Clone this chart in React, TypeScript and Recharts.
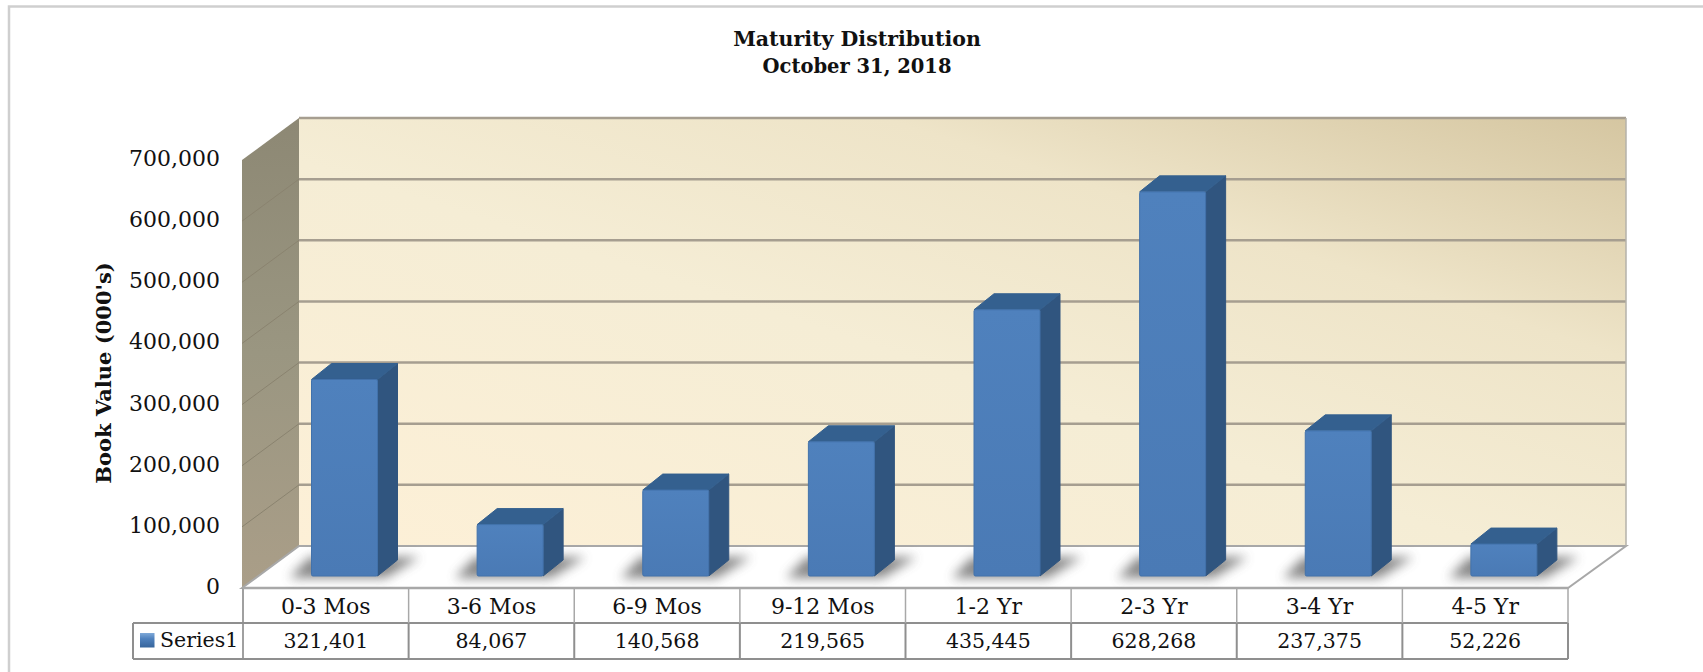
import { Bar, BarChart, XAxis, YAxis } from "recharts";

const categories = ["0-3 Mos", "3-6 Mos", "6-9 Mos", "9-12 Mos", "1-2 Yr", "2-3 Yr", "3-4 Yr", "4-5 Yr"];
const seriesValues = [321401, 84067, 140568, 219565, 435445, 628268, 237375, 52226];
const yTicks = [0, 100000, 200000, 300000, 400000, 500000, 600000, 700000];
const seriesName = "Series1";

const chartData = categories.map((name, i) => ({ name, value: seriesValues[i] }));

const FONT = "'DejaVu Serif', serif";
const W = 1703;
const H = 672;

// bars stand on a plane part way into the 3D box
const plotLeft = 261.5;
const plotRight = 1586.5;
const plotBottom = 576;
const plotHeight = 428;
const yMax = 700000;
const axisW = 60;
const axisH = 60;
const frontX = 243;
const frontRight = 1568;
const frontUp = 12; // front edge of the floor, below the bar plane
const backDx = 56;
const backUp = 30; // back wall, above the bar plane
const depthX = 20;
const depthY = 16;
const colW = (frontRight - frontX) / categories.length;
const row1 = 623;
const row2 = 659;
const legendX = 133;

const planeY = (v: number) => plotBottom - (v / yMax) * plotHeight;

function Box3D() {
  const fy = plotBottom + frontUp;
  const by = plotBottom - backUp;
  const topF = planeY(yMax) + frontUp;
  const topB = planeY(yMax) - backUp;
  const bx = frontX + backDx;
  const bxr = frontRight + backDx + 2;
  return (
    <g>
      <defs>
        <linearGradient id="backWall" x1="0" y1="1" x2="1" y2="0">
          <stop offset="0" stopColor="#fdf0d7" />
          <stop offset="0.45" stopColor="#f5edd5" />
          <stop offset="0.72" stopColor="#eee4c8" />
          <stop offset="1" stopColor="#d5c6a1" />
        </linearGradient>
        <linearGradient id="sideWall" x1="0" y1="0" x2="0" y2="1">
          <stop offset="0" stopColor="#8d8874" />
          <stop offset="0.5" stopColor="#9a9681" />
          <stop offset="1" stopColor="#aa9e88" />
        </linearGradient>
        <linearGradient id="barFront" x1="0" y1="0" x2="0" y2="1">
          <stop offset="0" stopColor="#4f81bd" />
          <stop offset="1" stopColor="#4a7ab5" />
        </linearGradient>
        <linearGradient id="keyFill" x1="0" y1="0" x2="0" y2="1">
          <stop offset="0" stopColor="#7fa9d8" />
          <stop offset="0.4" stopColor="#4f81bd" />
          <stop offset="1" stopColor="#37659c" />
        </linearGradient>
        <filter id="soft" x="-40%" y="-100%" width="180%" height="300%">
          <feGaussianBlur stdDeviation="5.5" />
        </filter>
      </defs>
      <polyline points={`9,${H} 9,6.5 ${W},6.5`} fill="none" stroke="#cfcfcf" strokeWidth={2.5} />
      <rect x={bx} y={topB} width={bxr - bx} height={by - topB} fill="url(#backWall)" />
      <polygon
        points={`${frontX - 1},${topF} ${bx},${topB} ${bx},${by} ${frontX - 1},${fy}`}
        fill="url(#sideWall)"
      />
      <polygon
        points={`${frontX - 1},${fy} ${bx},${by} ${bxr},${by} ${frontRight},${fy}`}
        fill="#fff"
        stroke="#a8a8a8"
        strokeWidth={2}
      />
      {yTicks.map((t) => (
        <g key={t}>
          <line
            x1={frontX - 1}
            y1={planeY(t) + frontUp}
            x2={bx}
            y2={planeY(t) - backUp}
            stroke="#8a836f"
            strokeWidth={t === 0 || t === yMax ? 0 : 1}
          />
          {t > 0 && (
            <line
              x1={bx}
              y1={planeY(t) - backUp}
              x2={bxr}
              y2={planeY(t) - backUp}
              stroke="#a69e90"
              strokeWidth={2.5}
            />
          )}
        </g>
      ))}
      <line x1={bxr} y1={topB} x2={bxr} y2={by} stroke="#b5b2aa" strokeWidth={1.5} />
      {/* data table */}
      <line x1={frontX} y1={fy} x2={frontX} y2={row2} stroke="#a0a0a0" strokeWidth={2} />
      <line x1={frontX} y1={fy} x2={frontRight} y2={fy} stroke="#a8a8a8" strokeWidth={2.5} />
      <line x1={legendX} y1={row1} x2={frontRight} y2={row1} stroke="#8f8f8f" strokeWidth={2} />
      <line x1={legendX} y1={row2} x2={frontRight} y2={row2} stroke="#8f8f8f" strokeWidth={2} />
      <line x1={legendX} y1={row1} x2={legendX} y2={row2} stroke="#8f8f8f" strokeWidth={2} />
      {categories.map((c, i) => (
        <g key={c}>
          <line
            x1={frontX + (i + 1) * colW}
            y1={fy}
            x2={frontX + (i + 1) * colW}
            y2={row1}
            stroke="#a8a8a8"
            strokeWidth={1.5}
          />
          <line
            x1={frontX + (i + 1) * colW}
            y1={row1}
            x2={frontX + (i + 1) * colW}
            y2={row2}
            stroke="#8f8f8f"
            strokeWidth={2}
          />
        </g>
      ))}
      <rect x={140} y={633} width={14.5} height={14.5} fill="url(#keyFill)" />
      <text x={160} y={647} fontFamily={FONT} fontSize={20.5} fill="#111">
        {seriesName}
      </text>
      <text x={857} y={46} textAnchor="middle" fontFamily={FONT} fontWeight="bold" fontSize={20.5} fill="#111">
        Maturity Distribution
      </text>
      <text x={857} y={73} textAnchor="middle" fontFamily={FONT} fontWeight="bold" fontSize={19.5} fill="#111">
        October 31, 2018
      </text>
      <text
        transform="translate(111,373) rotate(-90)"
        textAnchor="middle"
        fontFamily={FONT}
        fontWeight="bold"
        fontSize={21}
        fill="#111"
      >
        Book Value (000's)
      </text>
    </g>
  );
}

function Bar3D(props: any) {
  const { x, y, width, height } = props;
  const yb = y + height;
  const r = x + width;
  return (
    <g>
      <polygon
        points={`${x - 22},${yb + 2} ${r + 8},${yb + 2} ${r + 42},${yb - 19} ${x - 2},${yb - 19}`}
        fill="#555"
        opacity={0.7}
        filter="url(#soft)"
      />
      <polygon
        points={`${r},${y} ${r + depthX},${y - depthY} ${r + depthX},${yb - depthY} ${r},${yb}`}
        fill="#30557f"
        stroke="#30557f"
        strokeLinejoin="round"
      />
      <polygon
        points={`${x},${y} ${x + depthX},${y - depthY} ${r + depthX},${y - depthY} ${r},${y}`}
        fill="#34608f"
        stroke="#34608f"
        strokeLinejoin="round"
      />
      <rect x={x} y={y} width={width} height={height} rx={1.5} fill="url(#barFront)" stroke="#4272ab" />
    </g>
  );
}

function YTick(props: any) {
  const { y, payload } = props;
  return (
    <text x={220} y={y + frontUp + 6} textAnchor="end" fontFamily={FONT} fontSize={22} fill="#111">
      {Number(payload.value).toLocaleString("en-US")}
    </text>
  );
}

function TableTick(props: any) {
  const { x, payload, index } = props;
  const cx = x - (plotLeft - frontX);
  return (
    <g fontFamily={FONT} fill="#111" textAnchor="middle">
      <text x={cx} y={614} fontSize={22}>{payload.value}</text>
      <text x={cx} y={648} fontSize={20.5}>{seriesValues[index].toLocaleString("en-US")}</text>
    </g>
  );
}

export default function App() {
  return (
    <div style={{ position: "absolute", left: 0, top: 0, width: W, height: H, background: "#fff" }}>
      <BarChart
        width={W}
        height={H}
        data={chartData}
        margin={{
          left: plotLeft - axisW,
          right: W - plotRight,
          top: plotBottom - plotHeight,
          bottom: H - plotBottom - axisH,
        }}
      >
        <Box3D />
        <XAxis
          dataKey="name"
          axisLine={false}
          tickLine={false}
          height={axisH}
          interval={0}
          tick={(p: any) => <TableTick {...p} />}
        />
        <YAxis
          type="number"
          domain={[0, yMax]}
          ticks={yTicks}
          width={axisW}
          axisLine={false}
          tickLine={false}
          interval={0}
          tick={(p: any) => <YTick {...p} />}
        />
        <Bar dataKey="value" barSize={66} shape={<Bar3D />} isAnimationActive={false} />
      </BarChart>
    </div>
  );
}
